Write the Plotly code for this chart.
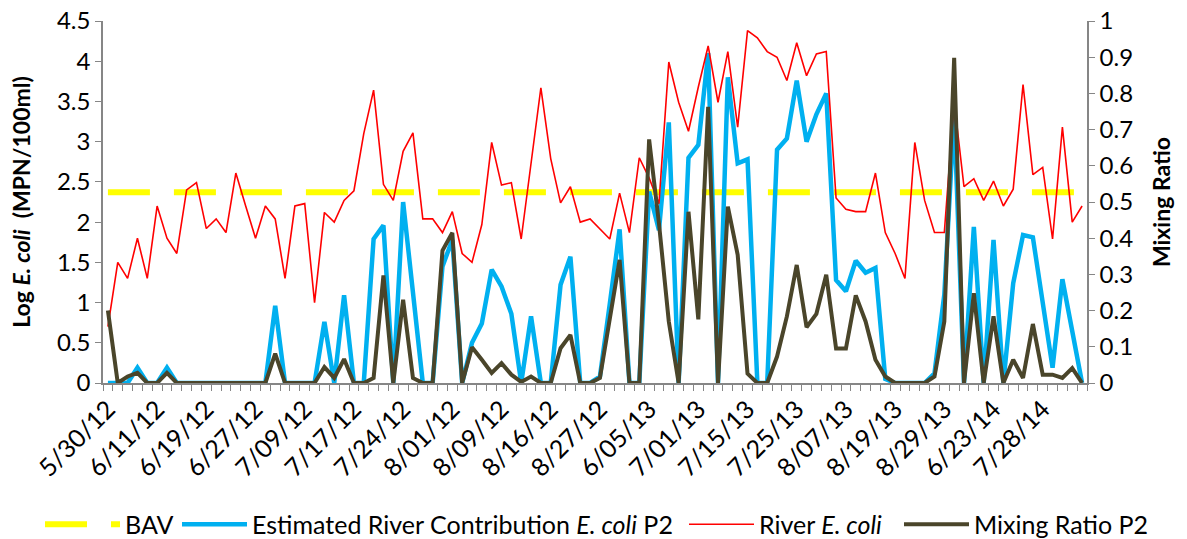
import plotly.graph_objects as go

tick_labels = ["5/30/12", "6/11/12", "6/19/12", "6/27/12", "7/09/12", "7/17/12", "7/24/12",
               "8/01/12", "8/09/12", "8/16/12", "8/27/12", "6/05/13", "7/01/13", "7/15/13",
               "7/25/13", "8/07/13", "8/19/13", "8/29/13", "6/23/14", "7/28/14"]

river_ecoli = [0.70, 1.50, 1.30, 1.80, 1.30, 2.20, 1.80, 1.61, 2.40, 2.49,
               1.92, 2.04, 1.87, 2.61, 2.20, 1.80, 2.20, 2.04, 1.30, 2.20,
               2.23, 1.00, 2.12, 2.00, 2.27, 2.39, 3.10, 3.64, 2.47, 2.27,
               2.88, 3.11, 2.04, 2.04, 1.87, 2.13, 1.61, 1.50, 1.97, 2.99,
               2.46, 2.49, 1.79, 2.70, 3.67, 2.79, 2.24, 2.44, 2.00, 2.04,
               1.92, 1.79, 2.36, 1.87, 2.80, 2.55, 2.23, 3.99, 3.49, 3.13,
               3.68, 4.19, 3.49, 4.12, 3.18, 4.38, 4.29, 4.12, 4.05, 3.76,
               4.23, 3.82, 4.09, 4.12, 2.30, 2.16, 2.13, 2.13, 2.61, 1.87,
               1.61, 1.30, 2.99, 2.27, 1.87, 1.87, 3.50, 2.44, 2.54, 2.27,
               2.51, 2.20, 2.41, 3.71, 2.59, 2.68, 1.79, 3.18, 2.00, 2.20]

estimated_p2 = [0, 0, 0, 0.19, 0, 0, 0.19, 0, 0, 0,
                0, 0, 0, 0, 0, 0, 0, 0.96, 0, 0,
                0, 0, 0.76, 0, 1.09, 0, 0, 1.79, 1.96, 0,
                2.25, 1.15, 0, 0, 1.45, 1.78, 0, 0.50, 0.74, 1.41,
                1.20, 0.86, 0, 0.83, 0, 0, 1.22, 1.57, 0, 0,
                0.08, 0.98, 1.91, 0, 0, 2.38, 1.90, 3.24, 0, 2.80,
                2.96, 4.10, 0, 3.80, 2.73, 2.78, 0, 0, 2.90, 3.04,
                3.76, 3.00, 3.34, 3.60, 1.28, 1.14, 1.52, 1.37, 1.43, 0.05,
                0, 0, 0, 0, 0.12, 1.10, 3.35, 0, 1.94, 0,
                1.78, 0, 1.24, 1.84, 1.81, 1.00, 0.19, 1.29, 0.66, 0]

mixing_p2 = [0.20, 0, 0.018, 0.028, 0, 0, 0.028, 0, 0, 0,
             0, 0, 0, 0, 0, 0, 0, 0.081, 0, 0,
             0, 0, 0.044, 0.014, 0.066, 0, 0, 0.014, 0.297, 0,
             0.23, 0.014, 0, 0, 0.366, 0.415, 0, 0.099, 0.064, 0.028,
             0.055, 0.023, 0.003, 0.018, 0, 0, 0.096, 0.133, 0, 0,
             0.014, 0.175, 0.34, 0, 0, 0.673, 0.441, 0.17, 0, 0.473,
             0.176, 0.763, 0, 0.487, 0.354, 0.026, 0, 0, 0.073, 0.184,
             0.326, 0.154, 0.191, 0.299, 0.095, 0.095, 0.242, 0.17, 0.064, 0.018,
             0, 0, 0, 0, 0.018, 0.17, 0.898, 0, 0.248, 0,
             0.184, 0, 0.064, 0.014, 0.163, 0.023, 0.023, 0.014, 0.041, 0]

BAV_VALUE = 2.37
n = len(river_ecoli)
x = list(range(n))
bav = [BAV_VALUE] * n
tick_idx = list(range(0, n, 5))

FONT = "Lato, Carlito, Calibri, sans-serif"
AX = "#868686"
W, H = 1187, 539

fig = go.Figure()
fig.add_trace(go.Scatter(x=x, y=bav, mode="lines", name="BAV", legend="legend",
                         line=dict(color="#FFFF00", width=6, dash="42px,24px")))
fig.add_trace(go.Scatter(x=x, y=estimated_p2, mode="lines", legend="legend2",
                         name="Estimated River Contribution <i>E. coli</i> P2",
                         line=dict(color="#00B0F0", width=4.5)))
fig.add_trace(go.Scatter(x=x, y=river_ecoli, mode="lines", name="River <i>E. coli</i>",
                         legend="legend3", line=dict(color="#FF0000", width=1.6)))
fig.add_trace(go.Scatter(x=x, y=mixing_p2, mode="lines", name="Mixing Ratio P2",
                         legend="legend4", yaxis="y2",
                         line=dict(color="#4A452A", width=4)))


def leg(px_left, symbol_w):
    return dict(orientation="h", xref="container", x=px_left / W, xanchor="left",
                yref="container", y=0.027, yanchor="middle", bgcolor="rgba(0,0,0,0)",
                font=dict(size=25), itemwidth=symbol_w, tracegroupgap=0)


fig.update_layout(
    width=W, height=H,
    margin=dict(l=103, r=100, t=21, b=156, autoexpand=False),
    paper_bgcolor="white", plot_bgcolor="white",
    font=dict(family=FONT, size=24, color="black"),
    showlegend=True,
    legend=leg(40, 75),
    legend2=leg(177, 65),
    legend3=leg(684, 65),
    legend4=leg(899, 65),
    xaxis=dict(range=[-0.5, n - 0.5], tickmode="array", tickvals=tick_idx,
               ticktext=tick_labels, tickangle=-45, ticks="", showgrid=False,
               showline=True, linecolor=AX, linewidth=1.5, zeroline=False,
               tickfont=dict(size=25), automargin=False,
               minor=dict(tickmode="linear", tick0=-0.5, dtick=1, ticks="outside",
                          ticklen=6, tickcolor=AX, tickwidth=1.3, showgrid=False)),
    yaxis=dict(range=[0, 4.5], dtick=0.5, tick0=0, showgrid=False, zeroline=False,
               showline=True, linecolor=AX, linewidth=1.5, ticks="outside",
               ticklen=6, tickcolor=AX, tickfont=dict(size=24), automargin=False,
               title=dict(text="<b>Log <i>E. coli</i>  (MPN/100ml)</b>",
                          font=dict(size=23), standoff=20)),
    yaxis2=dict(range=[0, 1], dtick=0.1, tick0=0, overlaying="y", side="right",
                showgrid=False, zeroline=False, showline=True, linecolor=AX,
                linewidth=1.5, ticks="outside", ticklen=6, tickcolor=AX,
                tickfont=dict(size=24), automargin=False,
                title=dict(text="<b>Mixing Ratio</b>", font=dict(size=23), standoff=22)),
)

fig.write_html("out.html")
